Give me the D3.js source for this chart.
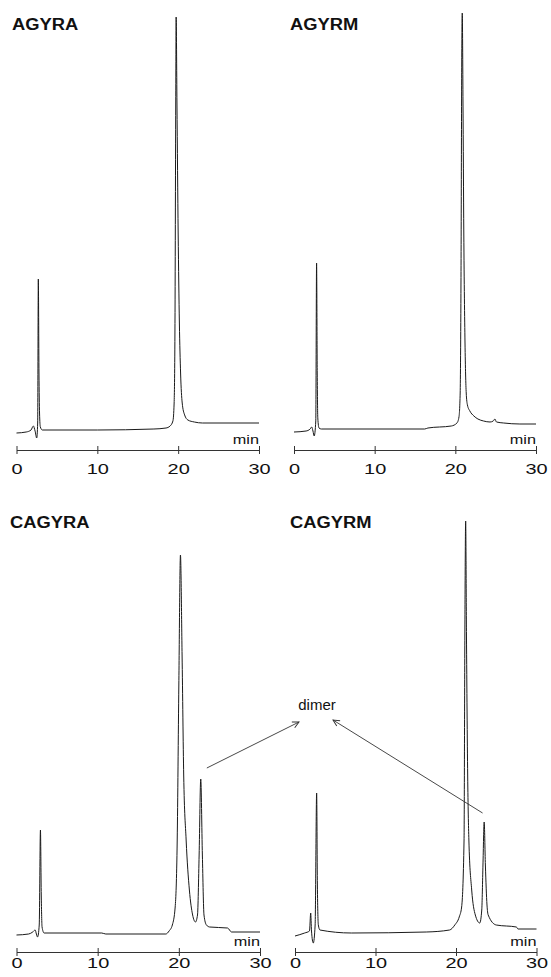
<!DOCTYPE html>
<html>
<head>
<meta charset="utf-8">
<script src="https://cdn.jsdelivr.net/npm/d3@7"></script>
<style>
  html, body { margin: 0; padding: 0; background: #fff; }
  svg { display: block; font-family: "Liberation Sans", Arial, sans-serif; }
</style>
</head>
<body>
<div id="chart"></div>
<script>
// retention time (min), signal height above baseline
const timeTicks = [0, 10, 20, 30];
const titles = ["AGYRA", "AGYRM", "CAGYRA", "CAGYRM"];

const agyraTrace = [
  [0, 0], [1.2, 1], [1.8, 3], [2.08, 7], [2.3, 2], [2.5, -5], [2.62, 10],
  [2.7, 154], [2.78, 60], [2.85, 20], [2.95, 6], [3.2, 3], [10, 3], [17, 4],
  [18.5, 5], [19.0, 7], [19.35, 12], [19.5, 30], [19.6, 100], [19.7, 330],
  [19.75, 416], [19.85, 330], [20.0, 200], [20.15, 110], [20.3, 60], [20.5, 30],
  [20.8, 18], [21.2, 13], [22, 11], [23, 10], [30, 10]
];

const agyrmTrace = [
  [0, 1], [1.5, 2], [2.0, 4], [2.19, 6], [2.35, 2], [2.5, -3], [2.7, 12],
  [2.8, 170], [2.88, 60], [2.95, 15], [3.1, 5], [3.4, 4], [16.2, 4], [16.6, 5],
  [19.5, 7], [20.2, 10], [20.45, 16], [20.6, 40], [20.7, 150], [20.8, 380],
  [20.86, 420], [20.95, 330], [21.05, 200], [21.2, 90], [21.35, 40], [21.5, 28],
  [21.8, 22], [22.3, 17], [22.8, 14], [23.5, 12], [24.3, 11], [24.7, 12],
  [24.9, 14], [25.1, 11], [26, 10], [28, 9], [30, 9]
];

const cagyraTrace = [
  [0, 0], [1.5, 1], [2.0, 3], [2.3, 5], [2.45, 1], [2.6, -2], [2.8, 10],
  [2.95, 105], [3.05, 40], [3.15, 8], [3.4, 2], [10.5, 2], [11, 1], [18.4, 1],
  [18.8, 4], [19.2, 10], [19.55, 28], [19.8, 95], [20.0, 250], [20.2, 380],
  [20.4, 280], [20.6, 160], [20.9, 95], [21.3, 45], [21.7, 20], [22.05, 13],
  [22.3, 20], [22.5, 80], [22.7, 156], [22.9, 80], [23.1, 20], [23.4, 10],
  [23.8, 8], [26, 7], [26.5, 3], [30, 3]
];

const cagyrmTrace = [
  [0, -1], [1.2, 2], [1.8, 4], [1.95, 22], [2.05, 4], [2.27, -8], [2.5, 10],
  [2.69, 142], [2.78, 50], [2.9, 10], [3.1, 5], [7, 2], [16.3, 3], [19.2, 5],
  [19.85, 10], [20.4, 18], [20.7, 28], [21.0, 95], [21.1, 300], [21.2, 414],
  [21.3, 300], [21.45, 160], [21.6, 95], [21.95, 45], [22.4, 20], [22.95, 12],
  [23.2, 25], [23.35, 70], [23.5, 113], [23.65, 70], [23.85, 30], [24.0, 20],
  [25.0, 10], [27.5, 8], [27.7, 6], [30, 6]
];

const traces = [agyraTrace, agyrmTrace, cagyraTrace, cagyrmTrace];

// dimer arrows: start point in (panel, time, height)
const dimerArrows = [
  { panel: 2, t: 23.45, h: 167, to: [299, 722] },
  { panel: 3, t: 23.3, h: 122, to: [333, 720] }
];

const width = 551;
const height = 977;

// panel layout (pixels)
const layout = [
  { x0: 16.5, x1: 259, base: 433, axisY: 450, pad: 9, tx: 12, ty: 30 },
  { x0: 294, x1: 536, base: 433, axisY: 450, pad: 9, tx: 290, ty: 30 },
  { x0: 16.5, x1: 260, base: 935, axisY: 952, pad: 1, tx: 10, ty: 528 },
  { x0: 295, x1: 536.5, base: 935, axisY: 952, pad: 1, tx: 290, ty: 528 }
];

const svg = d3
  .select("#chart")
  .append("svg")
  .attr("width", width)
  .attr("height", height);

const defs = svg.append("defs");
defs
  .append("marker")
  .attr("id", "arrow")
  .attr("viewBox", "0 0 10 10")
  .attr("refX", 9)
  .attr("refY", 5)
  .attr("markerWidth", 8)
  .attr("markerHeight", 8)
  .attr("markerUnits", "userSpaceOnUse")
  .attr("orient", "auto")
  .append("path")
  .attr("d", "M1,1 L9,5 L1,9")
  .attr("fill", "none")
  .attr("stroke", "#333")
  .attr("stroke-width", 1.2);

const scales = [];

layout.forEach((p, i) => {
  const x = d3.scaleLinear().domain([0, 30]).range([p.x0, p.x1]);
  const y = d3.scaleLinear().domain([0, 420]).range([p.base, p.base - 420]);
  scales.push({ x, y });

  const g = svg.append("g").attr("class", "panel");

  // trace
  const line = d3
    .line()
    .x((d) => x(d[0]))
    .y((d) => y(d[1]))
    .curve(d3.curveMonotoneX);

  g.append("path")
    .datum(traces[i])
    .attr("d", line)
    .attr("fill", "none")
    .attr("stroke", "#1a1a1a")
    .attr("stroke-width", 1)
    .attr("stroke-linejoin", "round");

  // time axis
  const axis = d3
    .axisBottom(x)
    .tickValues(timeTicks)
    .tickSize(4)
    .tickSizeOuter(0)
    .tickPadding(p.pad);

  const ax = g
    .append("g")
    .attr("transform", "translate(0," + p.axisY + ")")
    .call(axis);
  ax.select(".domain").attr("stroke", "#333").attr("stroke-width", 1);
  ax.selectAll(".tick line").attr("y1", -4).attr("stroke", "#333");
  ax.selectAll(".tick text")
    .attr("font-size", 15)
    .attr("fill", "#111")
    .attr("font-family", "Liberation Sans, Arial, sans-serif")
    .attr("transform", "scale(1.33,1)");

  // "min" unit label
  g.append("text")
    .attr("transform", "translate(" + p.x1 + "," + (p.axisY - 6) + ") scale(1.25,1)")
    .attr("text-anchor", "end")
    .attr("font-size", 13)
    .attr("fill", "#111")
    .text("min");

  // panel title
  g.append("text")
    .attr("transform", "translate(" + p.tx + "," + p.ty + ") scale(1.08,1)")
    .attr("font-size", 17)
    .attr("font-weight", "bold")
    .attr("fill", "#111")
    .text(titles[i]);
});

// dimer annotation
svg.append("text")
  .attr("x", 317)
  .attr("y", 710)
  .attr("text-anchor", "middle")
  .attr("font-size", 15)
  .attr("fill", "#111")
  .text("dimer");

svg.selectAll(".dimer-arrow")
  .data(dimerArrows)
  .enter()
  .append("line")
  .attr("class", "dimer-arrow")
  .attr("x1", (d) => scales[d.panel].x(d.t))
  .attr("y1", (d) => scales[d.panel].y(d.h))
  .attr("x2", (d) => d.to[0])
  .attr("y2", (d) => d.to[1])
  .attr("stroke", "#333")
  .attr("stroke-width", 0.9)
  .attr("marker-end", "url(#arrow)");
</script>
</body>
</html>
